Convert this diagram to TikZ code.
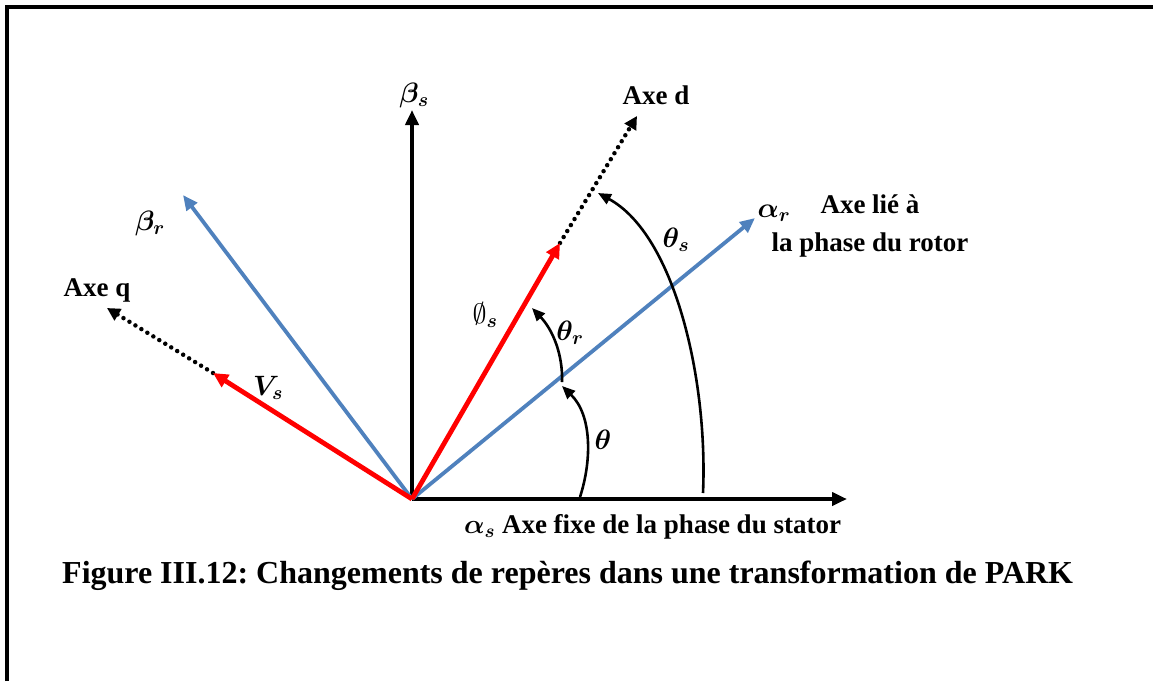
\RequirePackage{fix-cm}
\documentclass[tikz,border=0pt]{standalone}
\usepackage{amsmath,bm}
\usepackage{fontspec}
\setmainfont{Liberation Serif}
\usetikzlibrary{arrows.meta}
\definecolor{axblue}{RGB}{79,129,189}
\definecolor{axred}{RGB}{255,0,0}
\frenchspacing
\begin{document}
\begin{tikzpicture}[x=1pt,y=-1pt,
  tipA/.style={-{Triangle[length=15pt,width=13pt]}},
  blk/.style={draw=black,line width=3.8pt,tipA},
  blu/.style={draw=axblue,line width=3.8pt,tipA},
  rd/.style={draw=axred,line width=4.8pt,-{Triangle[length=15pt,width=14pt]}},
  dotln/.style={draw=black,line width=4.5pt,dash pattern=on 0pt off 7pt,line cap=round,-{Triangle[length=13pt,width=13pt]}},
  arcs/.style={draw=black,line width=2.6pt,-{Triangle[length=13pt,width=11pt]}},
  lbl/.style={font=\fontsize{27}{38}\selectfont\bfseries,inner sep=0pt,align=center},
  mlbl/.style={font=\fontsize{28}{32}\selectfont,inner sep=0pt},
  figcap/.style={font=\fontsize{32}{36}\selectfont\bfseries,inner sep=0pt}]
\useasboundingbox (0,0) rectangle (1153,681);
\draw[line width=3.5pt] (7,681) -- (7,7) -- (1153,7);
% coordinates
\coordinate (O) at (412,499);
\coordinate (as) at (847,499);
\coordinate (bs) at (412,110);
\coordinate (ar) at (755,218);
\coordinate (br) at (183,195);
\coordinate (phi) at (560,243);
\coordinate (d) at (637,116);
\coordinate (vs) at (213,373);
\coordinate (q) at (107,308);
% axes
\draw[blk] (O) -- (as);
\draw[blk] (O) -- (bs);
\draw[blu] (O) -- (ar);
\draw[blu] (O) -- (br);
\draw[dotln] (phi) -- (d);
\draw[dotln] (vs) -- (q);
\draw[rd] (O) -- (phi);
\draw[rd] (O) -- (vs);
% angle arcs
\coordinate (t0) at (580,497);
\coordinate (t1) at (562,386);
\coordinate (tr0) at (562,382);
\coordinate (tr1) at (532,308);
\coordinate (ts0) at (703,493);
\coordinate (ts1) at (598,193);
\draw[arcs] (t0) .. controls (592,460) and (592,415) .. (t1);
\draw[arcs] (tr0) .. controls (563,355) and (553,330) .. (tr1);
\draw[arcs] (ts0) .. controls (708,380) and (675,235) .. (ts1);
% labels
\node[mlbl] (lbs) at (414,95) {$\bm{\beta_s}$};
\node[lbl] (ld) at (656,95) {Axe d};
\node[mlbl] (lbr) at (150,223) {$\bm{\beta_r}$};
\node[lbl] (lq) at (97,290) {Axe q};
\node[mlbl] (lvs) at (268,388) {$\bm{V_s}$};
\node[mlbl] (lphi) at (485,315) {$\emptyset_{\bm{s}}$};
\node[mlbl] (ltr) at (570,333) {$\bm{\theta_r}$};
\node[mlbl] (lt) at (603,440) {$\bm{\theta}$};
\node[mlbl] (lts) at (676,240) {$\bm{\theta_s}$};
\node[mlbl] (lar) at (774,213) {$\bm{\alpha_r}$};
\node[lbl] (lrot) at (870,226) {Axe lié à\\la phase du rotor};
\node[lbl,anchor=base west] (las) at (464,533) {$\bm{\alpha_s}$ Axe fixe de la phase du stator};
\node[figcap,anchor=base west] (fig) at (62,583) {Figure III.12: Changements de repères dans une transformation de PARK};
\end{tikzpicture}
\end{document}
